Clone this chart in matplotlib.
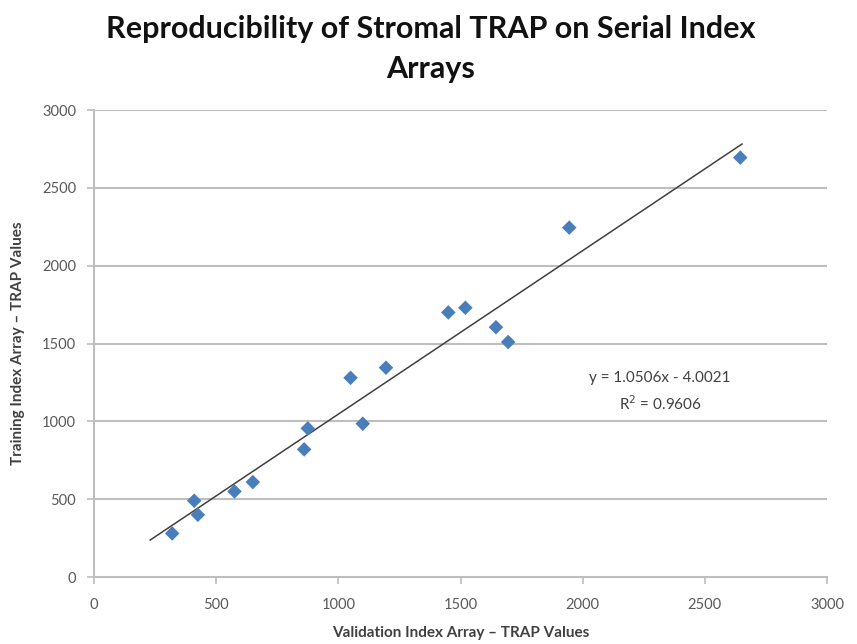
import matplotlib
matplotlib.use("Agg")
import matplotlib.pyplot as plt
import numpy as np

plt.rcParams['font.family'] = ['Lato', 'DejaVu Sans']

# valori
validation = [320, 410, 425, 575, 650, 860, 875, 1050, 1100, 1195,
              1450, 1520, 1645, 1695, 1945, 2645]
training = [280, 490, 400, 550, 610, 820, 955, 1280, 985, 1345,
            1700, 1730, 1605, 1510, 2245, 2695]
slope = 1.0506
intercept = -4.0021
r2 = 0.9606
ticks = [0, 500, 1000, 1500, 2000, 2500, 3000]

fig = plt.figure(figsize=(8.57, 6.44), dpi=100)
ax = fig.add_axes([0.1097, 0.104, 0.8553, 0.725])

# griglia orizzontale
for t in ticks[1:]:
    ax.axhline(t, color='#BEBEBE', linewidth=1.5, zorder=0)

# linea di tendenza
xs = np.array([min(validation) - 90, max(validation) + 7])
ax.plot(xs, slope * xs + intercept, color='#404040', linewidth=1.1, zorder=2)

ax.scatter(validation, training, marker='D', s=55, color='#4A7EBB',
           edgecolors='none', zorder=3)

ax.set_xlim(0, 3000)
ax.set_ylim(0, 3000)
ax.set_xticks(ticks)
ax.set_yticks(ticks)
ax.tick_params(axis='both', colors='#BEBEBE', length=5, width=1.2,
               labelcolor='#595959', labelsize=10.5)
ax.tick_params(axis='x', pad=10)
ax.tick_params(axis='y', pad=8)
for s in ['top', 'right']:
    ax.spines[s].set_visible(False)
for s in ['left', 'bottom']:
    ax.spines[s].set_color('#BEBEBE')
    ax.spines[s].set_linewidth(1.5)

ax.set_xlabel('Validation Index Array \u2013 TRAP Values', fontsize=11,
              fontweight='bold', color='#404040', labelpad=10)
ax.set_ylabel('Training Index Array \u2013 TRAP Values', fontsize=11,
              fontweight='bold', color='#404040', labelpad=12)

ax.text(2317, 1278, 'y = %.4fx - %.4f' % (slope, -intercept), ha='center',
        va='center', fontsize=11, color='#404040')
ax.text(2317, 1117, 'R$^2$ = %.4f' % r2, ha='center', va='center',
        fontsize=11, color='#404040')

fig.text(0.502, 0.955, 'Reproducibility of Stromal TRAP on Serial Index',
         ha='center', va='center', fontsize=22, fontweight='bold', color='#111111')
fig.text(0.502, 0.893, 'Arrays', ha='center', va='center', fontsize=22,
         fontweight='bold', color='#111111')

fig.savefig('out.png', dpi=100)
